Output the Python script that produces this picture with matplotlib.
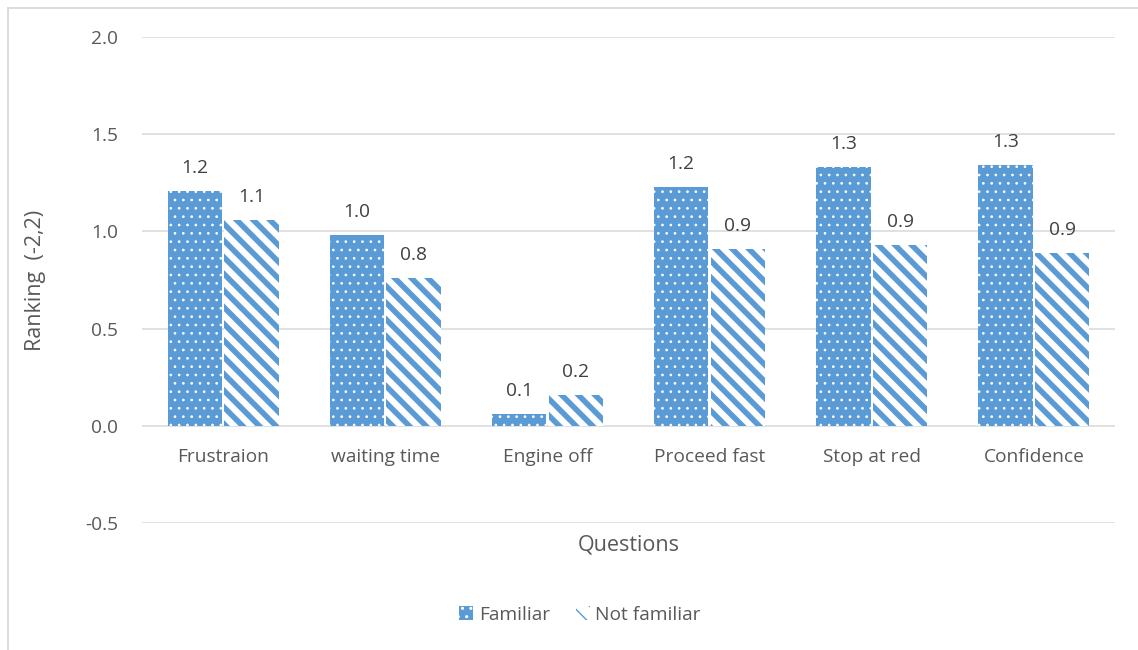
import matplotlib
matplotlib.use("Agg")
import matplotlib.pyplot as plt
import numpy as np
from matplotlib.patches import Patch
from matplotlib.lines import Line2D

# Survey results: mean ranking per question on a -2..2 scale
categories = ["Frustraion", "waiting time", "Engine off", "Proceed fast", "Stop at red", "Confidence"]
familiar = [1.21, 0.98, 0.06, 1.23, 1.33, 1.34]
not_familiar = [1.06, 0.76, 0.16, 0.91, 0.93, 0.89]
series_names = ["Familiar", "Not familiar"]
y_ticks = [-0.5, 0.0, 0.5, 1.0, 1.5, 2.0]

BLUE = "#5B9BD5"
GRID = "#D9D9D9"
TEXT = "#595959"
LABEL = "#404040"

plt.rcParams["font.family"] = ["Open Sans", "DejaVu Sans"]
FS = 13.8

W, H = 1138, 650
fig = plt.figure(figsize=(W / 100, H / 100), dpi=100)
ax = fig.add_axes([142 / W, 1 - 523 / H, (1115 - 142) / W, (523 - 37) / H])

x = np.arange(len(categories))
bw = 0.335
off = 0.175

DOT_LW = 0.7
STRIPE_LW = 4.0
DOTS = ".."
STRIPES = "\\\\"


def styled_bar(xs, vals, face, hatch_col, hatch, hlw):
    with plt.rc_context({"hatch.linewidth": hlw}):
        bars = ax.bar(xs, vals, bw, color=face, edgecolor=hatch_col,
                      linewidth=0, hatch=hatch, zorder=3)
    for b in bars:
        if hasattr(b, "set_hatch_linewidth"):
            b.set_hatch_linewidth(hlw)
    return bars


b1 = styled_bar(x - off, familiar, BLUE, "white", DOTS, DOT_LW)
b2 = styled_bar(x + off, not_familiar, "white", BLUE, STRIPES, STRIPE_LW)

# value labels above each bar
for bars, vals in ((b1, familiar), (b2, not_familiar)):
    for b, v in zip(bars, vals):
        ax.annotate(f"{v:.1f}", (b.get_x() + b.get_width() / 2, v),
                    xytext=(0, 10), textcoords="offset points",
                    ha="center", va="bottom", fontsize=FS, color=LABEL)

ax.set_xlim(-0.5, len(categories) - 0.5)
ax.set_ylim(-0.5, 2.0)
ax.set_yticks(y_ticks)
ax.set_yticklabels([f"{t:.1f}" for t in y_ticks])
ax.yaxis.grid(True, color=GRID, linewidth=1.1, zorder=0)
ax.set_axisbelow(True)
ax.tick_params(axis="y", length=0, pad=17, labelsize=FS, labelcolor=TEXT)
ax.set_xticks([])
for s in ax.spines.values():
    s.set_visible(False)

# category labels sit just below the zero line
for i, c in enumerate(categories):
    ax.annotate(c, (i, 0), xytext=(0, -22.5), textcoords="offset points",
                ha="center", va="center", fontsize=FS, color=TEXT)

fig.text((142 + 1115) / 2 / W, 1 - 545 / H, "Questions",
         ha="center", va="center", fontsize=15.5, color=TEXT)
fig.text(36 / W, 1 - 280 / H, "Ranking  (-2,2)", rotation=90,
         ha="center", va="center", fontsize=15.5, color=TEXT)

# legend
with plt.rc_context({"hatch.linewidth": DOT_LW}):
    h1 = Patch(facecolor=BLUE, edgecolor="white", linewidth=0, hatch=DOTS)
with plt.rc_context({"hatch.linewidth": STRIPE_LW}):
    h2 = Patch(facecolor="white", edgecolor=BLUE, linewidth=0, hatch=STRIPES)
for h, lw in ((h1, DOT_LW), (h2, STRIPE_LW)):
    if hasattr(h, "set_hatch_linewidth"):
        h.set_hatch_linewidth(lw)
fig.legend([h1, h2], series_names, loc="center", bbox_to_anchor=(580 / W, 1 - 615 / H),
           ncol=2, frameon=False, fontsize=FS, labelcolor=TEXT,
           handlelength=0.72, handleheight=0.72, handletextpad=0.3, columnspacing=1.35)

# chart frame
fig.add_artist(Line2D([7.5 / W, 7.5 / W], [0, 1 - 7.5 / H], transform=fig.transFigure,
                      color=GRID, linewidth=1.3))
fig.add_artist(Line2D([7.5 / W, 1], [1 - 7.5 / H, 1 - 7.5 / H], transform=fig.transFigure,
                      color=GRID, linewidth=1.3))

fig.savefig("out.png", dpi=100, facecolor="white")
